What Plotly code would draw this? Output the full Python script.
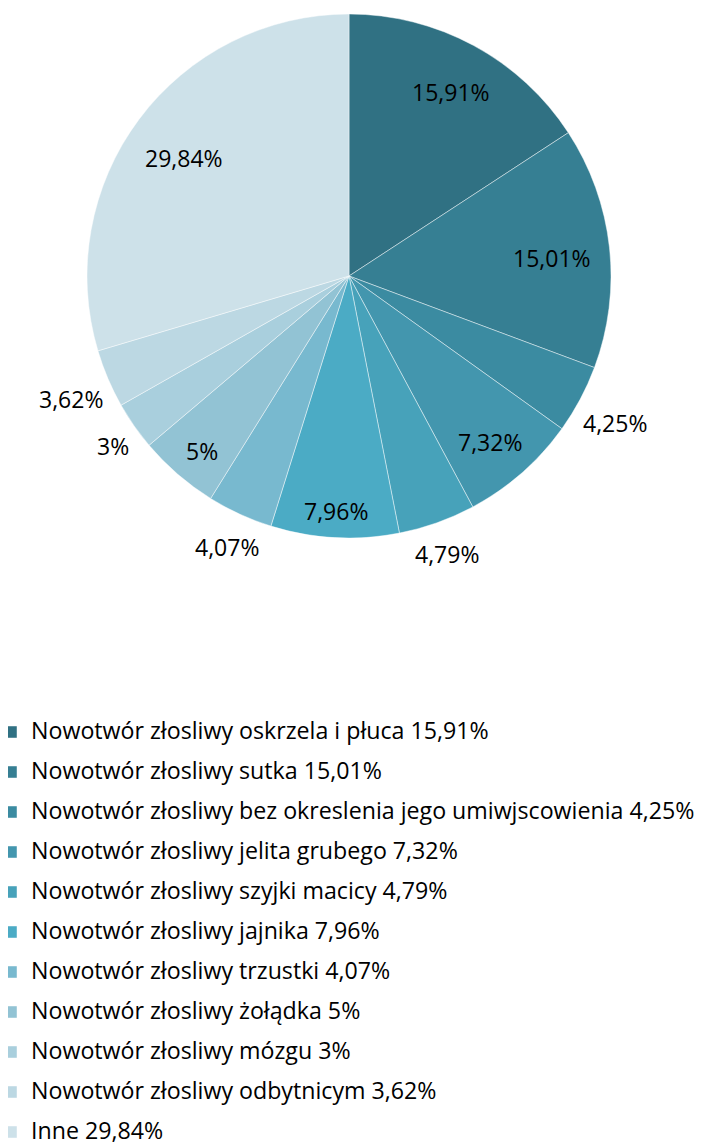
import math
import plotly.graph_objects as go

labels = [
    "Nowotwór złosliwy oskrzela i płuca 15,91%",
    "Nowotwór złosliwy sutka 15,01%",
    "Nowotwór złosliwy bez okreslenia jego umiwjscowienia 4,25%",
    "Nowotwór złosliwy jelita grubego 7,32%",
    "Nowotwór złosliwy szyjki macicy 4,79%",
    "Nowotwór złosliwy jajnika 7,96%",
    "Nowotwór złosliwy trzustki 4,07%",
    "Nowotwór złosliwy żołądka 5%",
    "Nowotwór złosliwy mózgu 3%",
    "Nowotwór złosliwy odbytnicym 3,62%",
    "Inne 29,84%",
]
values = [15.91, 15.01, 4.25, 7.32, 4.79, 7.96, 4.07, 5, 3, 3.62, 29.84]
slice_text = ["15,91%", "15,01%", "4,25%", "7,32%", "4,79%", "7,96%",
              "4,07%", "5%", "3%", "3,62%", "29,84%"]
text_pos = ["inside", "inside", "outside", "inside", "outside", "inside",
            "outside", "inside", "outside", "outside", "inside"]
colors = ["#307183", "#367F93", "#3B8BA1", "#4396AE", "#47A2BA", "#4BABC5",
          "#78B9CF", "#92C3D4", "#A9CFDD", "#BCD8E3", "#CDE1E9"]

# page body has an 8px margin, so the figure is 8px smaller than the window
W, H = 700, 1134
FONT = "Open Sans"
LABEL_SIZE = 23
LEGEND_SIZE = 23.2

# pie geometry (pixels inside the figure)
CX, CY, R = 341, 268, 262
INSET, OUTSET = 18, 6  # gap between label box and the rim


def text_width(s, size):
    em = {",": 0.245, "%": 0.83}
    return sum(em.get(c, 0.572) for c in s) * size


# legend entries: label on 3rd of 4 lines so items are 40px apart
legend_labels = ["&nbsp;<br>&nbsp;<br><span style='font-size:%spx'>%s</span><br>&nbsp;"
                 % (LEGEND_SIZE, l) for l in labels]

fig = go.Figure(go.Pie(
    labels=legend_labels,
    values=values,
    textinfo="none",
    sort=False,
    direction="clockwise",
    rotation=0,
    marker=dict(colors=colors, line=dict(color="rgba(255,255,255,0.6)", width=0.75)),
    domain=dict(x=[(CX - R) / W, (CX + R) / W], y=[1 - (CY + R) / H, 1 - (CY - R) / H]),
    hoverinfo="skip",
))

# slice labels at the middle angle of each slice, box fitted against the rim
total = sum(values)
cum = 0.0
for v, t, pos in zip(values, slice_text, text_pos):
    mid = (cum + v / 2) / total * 2 * math.pi
    cum += v
    hw = text_width(t, LABEL_SIZE) / 2
    hh = 12
    extent = hw * abs(math.sin(mid)) + hh * abs(math.cos(mid))
    rr = R - extent - INSET if pos == "inside" else R + extent + OUTSET
    px = CX + rr * math.sin(mid)
    py = CY - rr * math.cos(mid)
    fig.add_annotation(
        x=px / W, y=1 - py / H, xref="paper", yref="paper",
        text=t, showarrow=False, xanchor="center", yanchor="middle", yshift=-5,
        font=dict(family=FONT, size=LABEL_SIZE, color="#000000"),
    )

fig.update_layout(
    width=W, height=H,
    margin=dict(l=0, r=0, t=0, b=0, autoexpand=False),
    paper_bgcolor="white",
    plot_bgcolor="white",
    showlegend=True,
    legend=dict(
        x=-17 / W, xanchor="left",
        y=1 - 699 / H, yanchor="top",
        font=dict(family=FONT, size=9.25 / 1.3, color="#000000"),
        bgcolor="rgba(0,0,0,0)",
        borderwidth=0,
        tracegroupgap=0,
    ),
)

fig.write_html("out.html")
